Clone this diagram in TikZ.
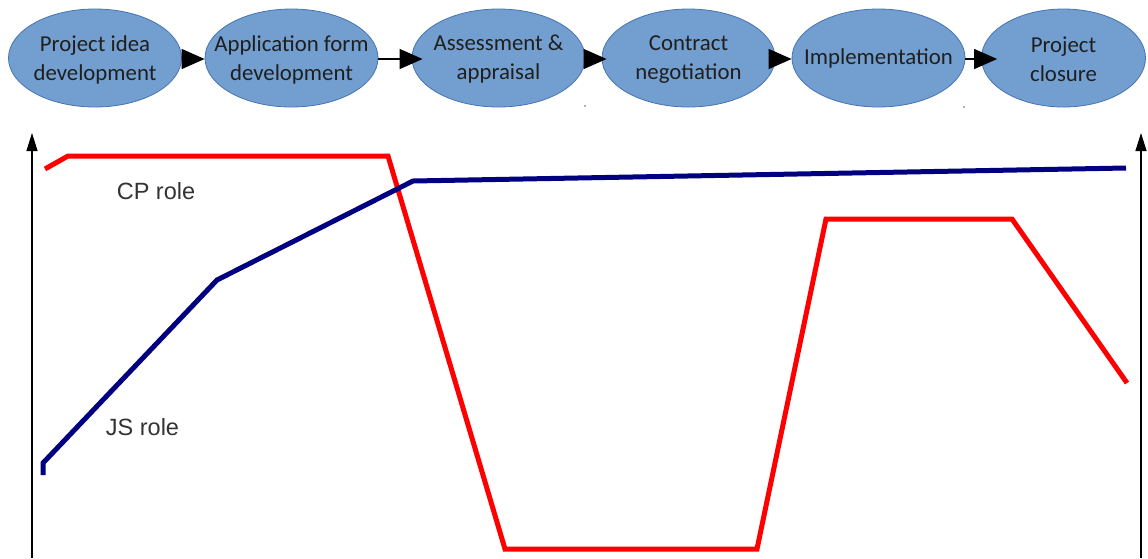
\documentclass[tikz,border=0pt]{standalone}
\usepackage{fontspec}
\setmainfont{Carlito}
\newfontfamily\labelfont{Liberation Sans}
\usetikzlibrary{shapes.geometric,arrows.meta}
\definecolor{stagefill}{RGB}{114,159,207}
\definecolor{stageline}{RGB}{70,115,180}
\definecolor{cprole}{RGB}{255,0,0}
\definecolor{jsrole}{RGB}{0,0,128}
\begin{document}
\begin{tikzpicture}[x=1pt,y=-1pt,
  stage/.style={ellipse,draw=stageline,line width=0.8pt,fill=stagefill,
    minimum width=173pt,minimum height=98pt,inner sep=0pt},
  stagetext/.style={align=center,font=\fontsize{22.8}{29}\selectfont,
    text=black!88,inner sep=0pt},
  flow/.style={line width=1.3pt,-{Triangle[length=23pt,width=20pt]}},
  axis/.style={line width=1.3pt,-{Triangle[length=18pt,width=11pt]}},
  curve/.style={line width=5pt},
  rolelabel/.style={font=\labelfont\fontsize{23.5}{26}\selectfont,text=black!80,inner sep=0pt}]
\useasboundingbox (0,0) rectangle (1148,558);
\fill[white] (0,0) rectangle (1148,558);

% project stages
\node[stage,label={[stagetext,yshift=-1.5pt]center:Project idea\\development}] (e1) at (95,58) {};
\node[stage,label={[stagetext,yshift=-1.5pt]center:Application form\\development}] (e2) at (291.5,58) {};
\node[stage,label={[stagetext,yshift=-1.5pt]center:Assessment \&\\appraisal}] (e3) at (498.5,58) {};
\node[stage,label={[stagetext,yshift=-1.5pt]center:Contract\\negotiation}] (e4) at (688.5,58) {};
\node[stage,label={[stagetext]center:Implementation}] (e5) at (878.5,58) {};
\node[stage,minimum width=164pt,label={[stagetext,yshift=-1.5pt]center:Project\\closure}] (e6) at (1063.5,58) {};

% transitions between stages
\draw[flow] ([yshift=-1pt]e1.east) -- ([yshift=-1pt]e2.west);
\draw[flow,shorten >=-11pt] ([yshift=-1pt]e2.east) -- ([yshift=-1pt]e3.west);
\draw[flow,shorten >=-5pt,shorten <=-3pt] ([yshift=-1pt]e3.east) -- ([yshift=-1pt]e4.west);
\draw[flow] ([yshift=-1pt]e4.east) -- ([yshift=-1pt]e5.west);
\draw[flow,shorten >=-16pt] ([yshift=-1pt]e5.east) -- ([yshift=-1pt]e6.west);

% stray marks under the stages
\fill[black!60] (585,106) circle (0.8pt);
\fill[black!60] (964,107) circle (0.8pt);

% axes
\coordinate (lbase) at (32,558);
\coordinate (ltop) at (32,133);
\coordinate (rbase) at (1141,558);
\coordinate (rtop) at (1141,133);
\draw[axis] (lbase) -- (ltop);
\draw[axis] (rbase) -- (rtop);

% role curves
\draw[curve,cprole] (45,169) -- (68,156) -- (388,156) -- (505,549) -- (757,549)
  -- (826,219) -- (1012,219) -- (1127,383);
\draw[curve,jsrole] (43,475) -- (43,463) -- (217,280) -- (413,181) -- (1126,168);

\node[rolelabel] (cp) at (156,191) {CP role};
\node[rolelabel] (js) at (142.5,427) {JS role};
\end{tikzpicture}
\end{document}
